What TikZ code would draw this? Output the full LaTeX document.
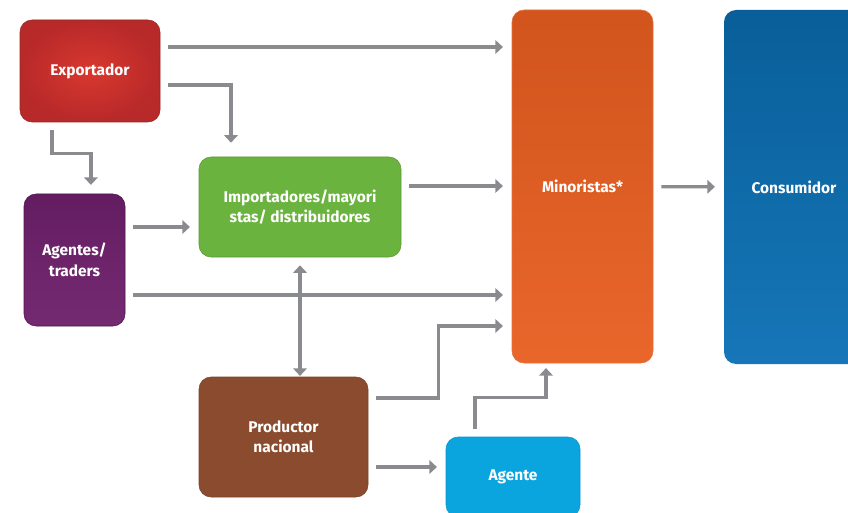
\documentclass[tikz,border=0pt]{standalone}
\usepackage{fontspec}
\setmainfont{Fira Sans}
\usetikzlibrary{arrows.meta,calc}
\definecolor{expored}{HTML}{C9302C}
\definecolor{exporedin}{HTML}{D8382E}
\definecolor{exporedout}{HTML}{B8292A}
\definecolor{agenpurple}{HTML}{6D1F6A}
\definecolor{impogreen}{HTML}{6BB33F}
\definecolor{minoorange}{HTML}{E85E20}
\definecolor{consblue}{HTML}{0A6FB4}
\definecolor{prodbrown}{HTML}{8A4B2E}
\definecolor{agentecyan}{HTML}{0AA4DE}
\definecolor{conngray}{HTML}{8A8B8F}
\tikzset{
	box/.style={rounded corners=0.3cm, text=white, align=center, inner sep=0pt,
		font=\bfseries\fontsize{11}{14.5}\selectfont},
	conn/.style={line width=0.8mm, color=conngray, shorten <=0.2cm, shorten >=0.22cm,
		-{Triangle[length=1.9mm,width=3.4mm]}},
}

\begin{document}
\begin{tikzpicture}
		%%%%% START %%%%%
		
		\useasboundingbox (0, 0) rectangle (21.2, -12.825);
		\clip (0, 0) rectangle (21.2, -12.825);
		
		\node[box, minimum width=3.5cm, minimum height=2.55cm, draw=expored!75!black, inner color=exporedin, outer color=exporedout] (expo) at (2.25, -1.775) {Exportador};
		\node[box, minimum width=2.525cm, minimum height=3.3cm, draw=agenpurple!70!black, top color=agenpurple!92!black, bottom color=agenpurple!95!white] (agen) at (1.8625, -6.5) {Agentes/\\traders};
		\node[box, minimum width=5.05cm, minimum height=2.5cm, draw=impogreen!85!black, fill=impogreen] (impo) at (7.5, -5.175) {Importadores/mayori\\stas/ distribuidores};
		\node[box, minimum width=3.525cm, minimum height=8.825cm, draw=minoorange!90!white, top color=minoorange!90!black, bottom color=minoorange!95!white] (mino) at (14.5625, -4.6625) {Minoristas*};
		\node[box, minimum width=3.5cm, minimum height=8.85cm, top color=consblue!85!black, bottom color=consblue!95!white] (cons) at (19.85, -4.675) {Consumidor};
		\node[box, minimum width=4.225cm, minimum height=3.0cm, draw=prodbrown!90!black, fill=prodbrown] (prod) at (7.0875, -10.925) {Productor\\nacional};
		\node[box, minimum width=3.35cm, minimum height=2.0cm, draw=agentecyan!90!black, fill=agentecyan] (agente) at (12.825, -11.925) {Agente};
		
		% straight connectors
		\coordinate (e1) at ([yshift=0.6cm]expo.east);
		\draw[conn] (e1) -- (e1 -| mino.west);
		\coordinate (a1) at ([yshift=0.825cm]agen.east);
		\draw[conn] (a1) -- (a1 -| impo.west);
		\coordinate (a2) at ([yshift=-0.875cm]agen.east);
		\draw[conn] (a2) -- (a2 -| mino.west);
		\coordinate (i1) at ([yshift=0.525cm]impo.east);
		\draw[conn] (i1) -- (i1 -| mino.west);
		\draw[conn] (mino) -- (cons);
		\coordinate (p2) at ([yshift=-0.75cm]prod.east);
		\draw[conn] (p2) -- (p2 -| agente.west);
		\draw[conn, {Triangle[length=1.9mm,width=3.4mm]}-{Triangle[length=1.9mm,width=3.4mm]}, shorten >=0.02cm] (impo.south) -- (impo.south |- prod.north);
		
		% elbow connectors
		\draw[conn, shorten >=0.35cm] ([yshift=-0.35cm]expo.east) -| ([xshift=-1.725cm]impo.north);
		\draw[conn] ([xshift=-0.95cm]expo.south) -- ++(0, -0.775) -| ([xshift=0.41cm]agen.north);
		\draw[conn] ([yshift=0.975cm]prod.east) -- ++(1.75, 0) |- ([yshift=-3.4875cm]mino.west);
		\draw[conn, shorten >=0.12cm] ([xshift=-0.95cm]agente.north) -- ++(0, 0.975) -| ([xshift=-0.9125cm]mino.south);
		
		%%%%% END %%%%%
	\end{tikzpicture}
\end{document}
